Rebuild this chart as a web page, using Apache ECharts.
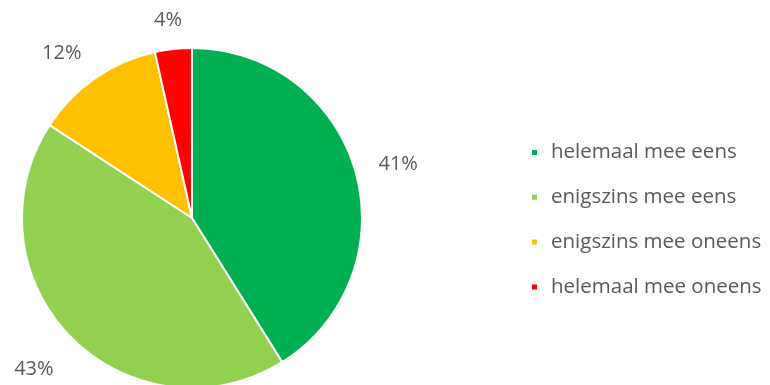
<!DOCTYPE html>
<html>
<head>
<meta charset="utf-8">
<script src="https://cdn.jsdelivr.net/npm/echarts@6/dist/echarts.min.js"></script>
<style>
html,body{margin:0;padding:0;background:#fff;}
#c{width:770px;height:385px;}
</style>
</head>
<body>
<div id="c"></div>
<script>
var categories = ['helemaal mee eens', 'enigszins mee eens', 'enigszins mee oneens', 'helemaal mee oneens'];
var values = [41.1, 43.1, 12.3, 3.5];
var colors = ['#00B050', '#92D050', '#FFC000', '#FF0000'];

var FONT = 'Open Sans';
var chart = echarts.init(document.getElementById('c'), null, {renderer: 'canvas'});
chart.setOption({
  animation: false,
  color: colors,
  legend: {
    orient: 'vertical',
    left: 530,
    top: 142,
    padding: 0,
    itemWidth: 7,
    itemHeight: 7,
    itemGap: 23.8,
    icon: 'rect',
    textStyle: {color: '#595959', fontSize: 20.5, fontFamily: FONT, lineHeight: 20, padding: [0, 0, 0, 8]},
    data: categories
  },
  series: [{
    type: 'pie',
    center: [192, 218],
    radius: 170,
    startAngle: 90,
    clockwise: true,
    avoidLabelOverlap: false,
    itemStyle: {borderColor: '#fff', borderWidth: 2},
    label: {
      show: true,
      position: 'outside',
      color: '#595959',
      fontSize: 20,
      fontFamily: FONT,
      formatter: function (p) { return Math.round(p.value) + '%'; }
    },
    labelLine: {show: true, length: 10, length2: 0, lineStyle: {opacity: 0}},
    labelLayout: function (p) {
      var pts = p.labelLinePoints;
      if (!pts) return {};
      var dx = pts[1][0] - pts[0][0], dy = pts[1][1] - pts[0][1];
      var l = Math.sqrt(dx * dx + dy * dy) || 1;
      var ux = dx / l, uy = dy / l;
      var w = p.labelRect.width, h = p.labelRect.height;
      var clamp = function (v) { return Math.max(-1, Math.min(1, v * 1.8)); };
      var d = 24;
      return {
        x: pts[0][0] + ux * d + clamp(ux) * w / 2,
        y: pts[0][1] + uy * d + clamp(uy) * h / 2 + 5,
        align: 'center', verticalAlign: 'middle'
      };
    },
    data: categories.map(function (n, i) { return {name: n, value: values[i]}; })
  }]
});
</script>
</body>
</html>
